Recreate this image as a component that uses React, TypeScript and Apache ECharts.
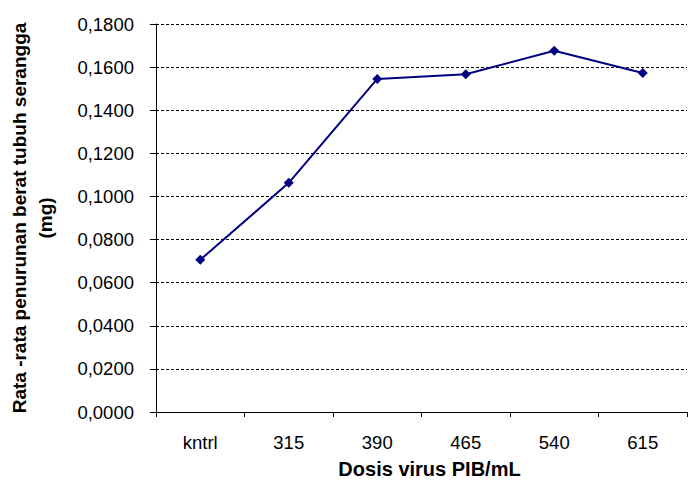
import React, { useEffect, useRef } from "react";
import * as echarts from "echarts";

const categories = ["kntrl", "315", "390", "465", "540", "615"];
const values = [0.0706, 0.1063, 0.1545, 0.1567, 0.1676, 0.1573];
const yMin = 0;
const yMax = 0.18;
const yStep = 0.02;
const xTitle = "Dosis virus PIB/mL";
const yTitle = "Rata -rata penurunan berat tubuh serangga\n(mg)";

export default function App() {
  const ref = useRef<HTMLDivElement>(null);
  useEffect(() => {
    if (!ref.current) return;
    const chart = echarts.init(ref.current, null, { renderer: "svg" });
    const font = "'Liberation Sans', Arial, sans-serif";
    chart.setOption({
      animation: false,
      backgroundColor: "#ffffff",
      textStyle: { fontFamily: font },
      grid: { left: 156, right: 1, top: 24, bottom: 69, containLabel: false, outerBoundsMode: "none" },
      xAxis: {
        type: "category",
        data: categories,
        boundaryGap: true,
        name: xTitle,
        nameLocation: "middle",
        nameGap: 47,
        nameTextStyle: { fontFamily: font, fontSize: 20, fontWeight: "bold", color: "#000", padding: [0, 0, 0, 16] },
        axisLine: { lineStyle: { color: "#000", width: 1 } },
        axisTick: { show: true, alignWithLabel: false, length: 5, lineStyle: { color: "#000" } },
        axisLabel: { color: "#000", fontSize: 18.5, fontFamily: font, margin: 21 },
        splitLine: { show: false },
      },
      yAxis: {
        type: "value",
        min: yMin,
        max: yMax,
        interval: yStep,
        name: yTitle,
        nameLocation: "middle",
        nameGap: 98,
        nameRotate: 90,
        nameTextStyle: { fontFamily: font, fontSize: 19, fontWeight: "bold", color: "#000", lineHeight: 26, align: "center" },
        axisLine: { show: true, lineStyle: { color: "#000", width: 1 } },
        axisTick: { show: true, length: 6, lineStyle: { color: "#000" } },
        axisLabel: {
          color: "#000",
          fontSize: 18.5,
          fontFamily: font,
          margin: 22,
          formatter: (v: number) => v.toFixed(4).replace(".", ","),
        },
        splitLine: { show: true, lineStyle: { color: "#000", type: [3, 2], width: 1 } },
      },
      series: [
        {
          type: "line",
          data: values,
          symbol: "diamond",
          symbolSize: 10,
          lineStyle: { color: "#000080", width: 2 },
          itemStyle: { color: "#000080" },
        },
      ],
    });
    return () => chart.dispose();
  }, []);
  return (
    <div
      ref={ref}
      style={{ position: "absolute", left: 0, top: 0, width: 688, height: 481 }}
    />
  );
}
